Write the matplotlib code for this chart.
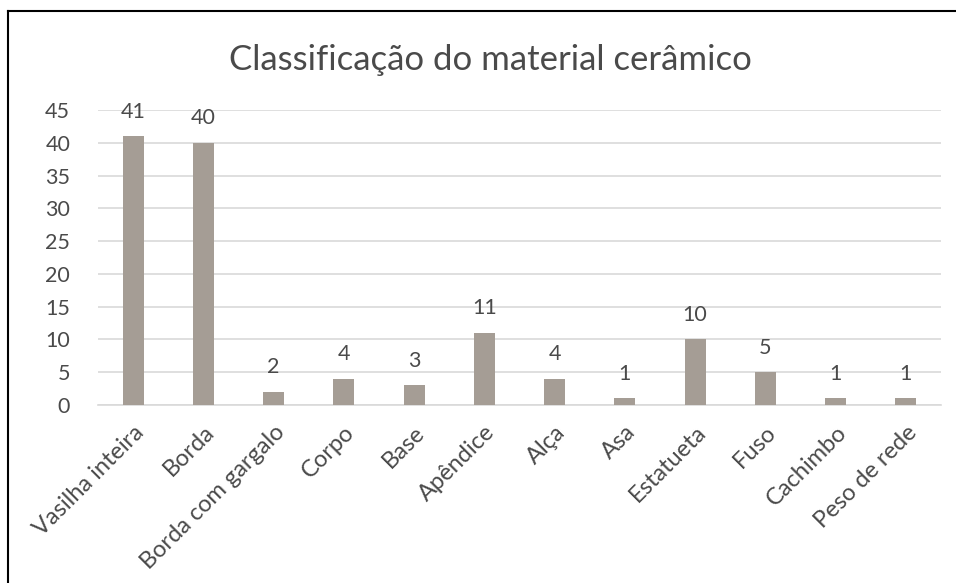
import matplotlib
matplotlib.use("Agg")
import matplotlib.pyplot as plt
from matplotlib.lines import Line2D

categories = ["Vasilha inteira", "Borda", "Borda com gargalo", "Corpo", "Base",
              "Apêndice", "Alça", "Asa", "Estatueta", "Fuso", "Cachimbo",
              "Peso de rede"]
counts = [41, 40, 2, 4, 3, 11, 4, 1, 10, 5, 1, 1]
yticks = list(range(0, 50, 5))

plt.rcParams["font.family"] = ["Lato", "DejaVu Sans"]
TXT = "#4a4a4a"

fig = plt.figure(figsize=(9.56, 5.83), dpi=100)
W, H = 956, 583
ax = fig.add_axes([98 / W, 1 - 405 / H, (941 - 98) / W, (405 - 110) / H])

x = list(range(len(categories)))
ax.bar(x, counts, width=0.3, color="#a59d95", zorder=3)
for xi, v in zip(x, counts):
    ax.text(xi, v + 2.2, str(v), ha="center", va="bottom", fontsize=15.5, color=TXT)

ax.set_xlim(-0.5, len(categories) - 0.5)
ax.set_ylim(0, 45)
ax.set_yticks(yticks)
ax.yaxis.grid(True, color="#d9d9d9", linewidth=1.2, zorder=0)
ax.set_xticks(x)
ax.set_xticklabels(categories, rotation=45, ha="right", rotation_mode="anchor")
ax.tick_params(axis="both", length=0, labelsize=15.5, labelcolor=TXT)
ax.tick_params(axis="x", labelsize=17, pad=12)
ax.tick_params(axis="y", pad=20)
for s in ["top", "right", "left"]:
    ax.spines[s].set_visible(False)
ax.spines["bottom"].set_color("#d9d9d9")
ax.spines["bottom"].set_linewidth(1.2)

fig.text(490 / W, 1 - 60 / H, "Classificação do material cerâmico",
         ha="center", va="center", fontsize=25, color=TXT)

# partial frame (left and top edges only, as in the source screenshot)
fig.add_artist(Line2D([8 / W, 8 / W], [0, 1 - 11 / H], color="black", lw=1.5,
                      transform=fig.transFigure))
fig.add_artist(Line2D([8 / W, 1], [1 - 11 / H, 1 - 11 / H], color="black", lw=1.5,
                      transform=fig.transFigure))

fig.savefig("out.png", dpi=100)
